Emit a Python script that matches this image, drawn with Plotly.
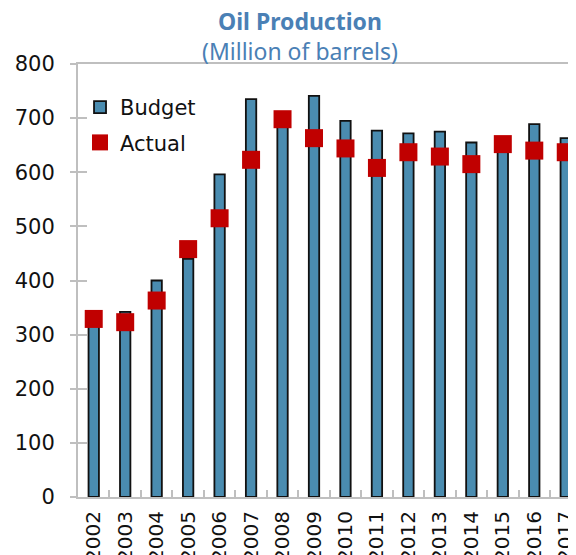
import plotly.graph_objects as go

years = ['2002', '2003', '2004', '2005', '2006', '2007', '2008', '2009',
         '2010', '2011', '2012', '2013', '2014', '2015', '2016', '2017']
budget = [320, 342, 400, 440, 596, 735, 695, 741, 695, 677, 672, 675, 655, 640, 689, 663]
actual = [329, 323, 363, 458, 515, 623, 698, 663, 644, 608, 637, 629, 615, 652, 640, 637]
y_ticks = [0, 100, 200, 300, 400, 500, 600, 700, 800]

FONT = 'DejaVu Sans, sans-serif'
TITLE_FONT = 'Noto Sans, sans-serif'
TITLE_BLUE = '#4a80b5'
AXIS_GREY = '#bfbfbf'

fig = go.Figure()
fig.add_trace(go.Bar(
    x=years, y=budget, name='Budget', width=0.33, legendgroup='b',
    marker=dict(color='#4a8cb0', line=dict(color='#111111', width=1.8)),
))
fig.add_trace(go.Scatter(
    x=years, y=actual, name='Actual', mode='markers', legendgroup='a',
    marker=dict(symbol='square', size=18, color='#c00000', line=dict(width=0)),
))

# page body adds an 8px offset, so margins are set 8px smaller on top/left
fig.update_layout(
    width=576, height=555,
    margin=dict(l=70, r=0, t=56, b=66, autoexpand=False),
    paper_bgcolor='#ffffff', plot_bgcolor='#ffffff',
    font=dict(family=FONT, size=20, color='#111111'),
    showlegend=True,
    legend=dict(x=0.004, y=0.947, xanchor='left', yanchor='top', bgcolor='rgba(0,0,0,0)',
                font=dict(family=FONT, size=21, color='#111111'),
                traceorder='grouped', tracegroupgap=5),
    annotations=[
        dict(text='<b>Oil Production</b>', x=0.4387, y=1.0993, xref='paper', yref='paper',
             xanchor='center', yanchor='middle', showarrow=False,
             font=dict(family=TITLE_FONT, size=23, color=TITLE_BLUE)),
        dict(text='(Million of barrels)', x=0.4387, y=1.030, xref='paper', yref='paper',
             xanchor='center', yanchor='middle', showarrow=False,
             font=dict(family=TITLE_FONT, size=23, color=TITLE_BLUE)),
    ],
)

fig.update_xaxes(
    type='category', range=[-0.5, 15.58], tickangle=-90,
    showline=True, mirror=True, linecolor=AXIS_GREY, linewidth=2,
    ticks='inside', tickson='boundaries', ticklen=7, tickcolor=AXIS_GREY, tickwidth=2,
    showgrid=False, automargin=False, ticklabelstandoff=4,
    tickfont=dict(family=FONT, size=20, color='#111111'),
)
fig.update_yaxes(
    range=[0, 800], tickvals=y_ticks,
    showline=True, linecolor=AXIS_GREY, linewidth=2,
    ticks='outside', ticklen=6, tickcolor=AXIS_GREY, tickwidth=2,
    showgrid=False, zeroline=False, automargin=False, ticklabelstandoff=11,
    tickfont=dict(family=FONT, size=21, color='#111111'),
)
# second y axis draws the inner half of the crossing ticks
fig.update_layout(yaxis2=dict(
    overlaying='y', side='left', anchor='x', range=[0, 800], tickvals=y_ticks,
    showticklabels=False, showline=False, showgrid=False, zeroline=False,
    ticks='inside', ticklen=9, tickcolor=AXIS_GREY, tickwidth=2,
))
fig.add_trace(go.Scatter(x=years, y=actual, yaxis='y2', mode='markers',
                         marker=dict(opacity=0), showlegend=False, hoverinfo='skip'))

fig.write_html('out.html')
